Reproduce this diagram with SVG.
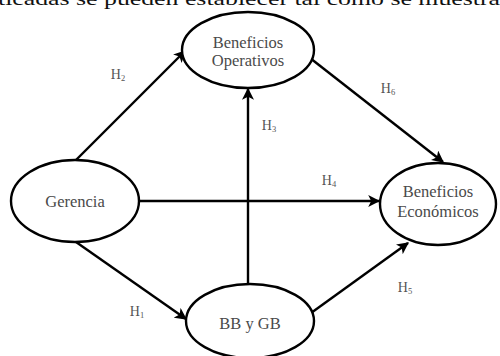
<svg xmlns="http://www.w3.org/2000/svg" width="500" height="356" viewBox="0 0 500 356">
  <style>
    .node ellipse { fill: #ffffff; stroke: #000000; stroke-width: 2.4; }
    .label { font-family: "Liberation Serif", "Times New Roman", serif; font-size: 16.5px; fill: #4a4a4a; text-anchor: middle; }
    .hyp { font-family: "Liberation Serif", "Times New Roman", serif; font-size: 14px; fill: #555555; text-anchor: middle; }
    .hyp tspan { font-size: 8.5px; }
    .edge { stroke: #000000; stroke-width: 2.4; fill: none; marker-end: url(#arrow); }
    .prose { font-family: "Liberation Serif", "Times New Roman", serif; font-size: 19px; fill: #111111; }
  </style>
  <defs>
    <marker id="arrow" viewBox="0 0 10 10" refX="9" refY="5" markerWidth="5" markerHeight="5" orient="auto" markerUnits="strokeWidth">
      <path d="M0,0 L10,5 L0,10 L2.5,5 Z" fill="#000000"/>
    </marker>
  </defs>

  <rect width="500" height="356" fill="#ffffff"/>

  <!-- running text line above the figure -->
  <text class="prose" x="-2" y="5" textLength="502" lengthAdjust="spacingAndGlyphs">ticadas se pueden establecer tal como se muestra</text>

  <!-- connectors -->
  <g id="connectors">
    <line id="h2" class="edge" x1="76" y1="160" x2="185" y2="51"/>
    <line id="h6" class="edge" x1="310" y1="58" x2="443" y2="162"/>
    <line id="h4" class="edge" x1="140" y1="201" x2="379" y2="201"/>
    <line id="h3" class="edge" x1="248" y1="284" x2="248" y2="89"/>
    <line id="h1" class="edge" x1="76" y1="242" x2="186" y2="319"/>
    <line id="h5" class="edge" x1="311" y1="313" x2="408" y2="243"/>
    <text class="hyp" x="118" y="79">H<tspan dy="2">2</tspan></text>
    <text class="hyp" x="388" y="93">H<tspan dy="2">6</tspan></text>
    <text class="hyp" x="329" y="185">H<tspan dy="2">4</tspan></text>
    <text class="hyp" x="269" y="130">H<tspan dy="2">3</tspan></text>
    <text class="hyp" x="137" y="316">H<tspan dy="2">1</tspan></text>
    <text class="hyp" x="405" y="292">H<tspan dy="2">5</tspan></text>
  </g>

  <g id="beneficios-operativos" class="node">
    <ellipse cx="248" cy="50" rx="66" ry="38"/>
    <text class="label" x="248" y="48">Beneficios</text>
    <text class="label" x="248" y="66">Operativos</text>
  </g>

  <g id="gerencia" class="node">
    <ellipse cx="75" cy="201" rx="64" ry="41"/>
    <text class="label" x="75" y="207">Gerencia</text>
  </g>

  <g id="beneficios-economicos" class="node">
    <ellipse cx="438" cy="204" rx="58" ry="41"/>
    <text class="label" x="438" y="197">Beneficios</text>
    <text class="label" x="438" y="217">Económicos</text>
  </g>

  <g id="bb-gb" class="node">
    <ellipse cx="250" cy="321" rx="64" ry="37"/>
    <text class="label" x="250" y="329">BB y GB</text>
  </g>
</svg>
